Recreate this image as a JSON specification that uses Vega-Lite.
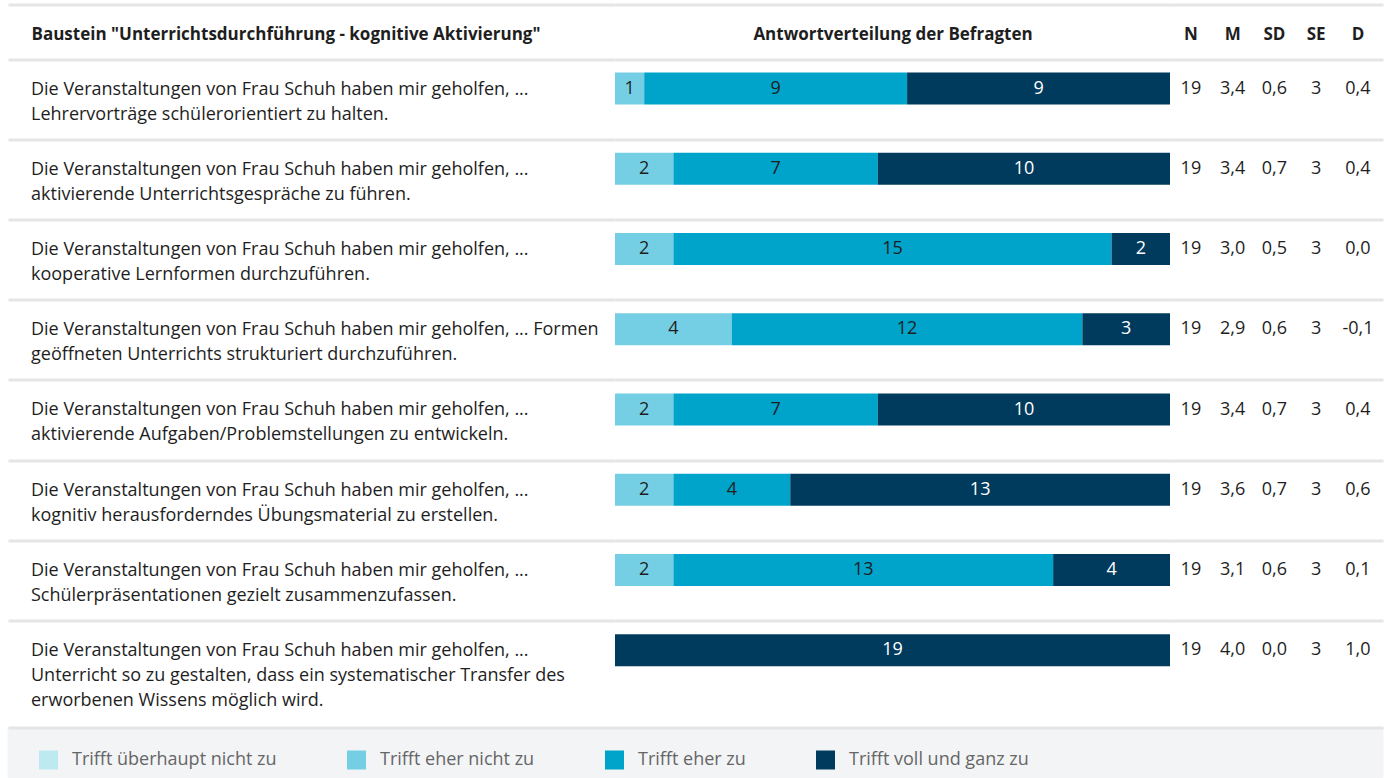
{
  "$schema": "https://vega.github.io/schema/vega-lite/v6.json",
  "padding": {"left": 7, "top": 4.5, "right": 10, "bottom": 0},
  "background": "white",
  "spacing": 0,
  "resolve": {"scale": {"color": "shared"}, "legend": {"color": "shared"}},
  "config": {
    "font": "Open Sans",
    "view": {"stroke": null},
    "locale": {"number": {"decimal": ",", "thousands": ".", "grouping": [3], "currency": ["", " €"], "minus": "-"}},
    "axis": {"gridColor": "#e5e5e5", "gridWidth": 3, "domainColor": "#e5e5e5", "domainWidth": 3, "labelFont": "Open Sans", "titleFont": "Open Sans"}
  },
  "datasets": {
    "questions": [
      {"id": "F1", "text": "Die Veranstaltungen von Frau Schuh haben mir geholfen, ...\nLehrervorträge schülerorientiert zu halten."},
      {"id": "F2", "text": "Die Veranstaltungen von Frau Schuh haben mir geholfen, ...\naktivierende Unterrichtsgespräche zu führen."},
      {"id": "F3", "text": "Die Veranstaltungen von Frau Schuh haben mir geholfen, ...\nkooperative Lernformen durchzuführen."},
      {"id": "F4", "text": "Die Veranstaltungen von Frau Schuh haben mir geholfen, ... Formen\ngeöffneten Unterrichts strukturiert durchzuführen."},
      {"id": "F5", "text": "Die Veranstaltungen von Frau Schuh haben mir geholfen, ...\naktivierende Aufgaben/Problemstellungen zu entwickeln."},
      {"id": "F6", "text": "Die Veranstaltungen von Frau Schuh haben mir geholfen, ...\nkognitiv herausforderndes Übungsmaterial zu erstellen."},
      {"id": "F7", "text": "Die Veranstaltungen von Frau Schuh haben mir geholfen, ...\nSchülerpräsentationen gezielt zusammenzufassen."},
      {"id": "F8", "text": "Die Veranstaltungen von Frau Schuh haben mir geholfen, ...\nUnterricht so zu gestalten, dass ein systematischer Transfer des\nerworbenen Wissens möglich wird."}
    ],
    "answers": [
      {"id": "F1", "category": "Trifft eher nicht zu", "k": 2, "count": 1},
      {"id": "F1", "category": "Trifft eher zu", "k": 3, "count": 9},
      {"id": "F1", "category": "Trifft voll und ganz zu", "k": 4, "count": 9},
      {"id": "F2", "category": "Trifft eher nicht zu", "k": 2, "count": 2},
      {"id": "F2", "category": "Trifft eher zu", "k": 3, "count": 7},
      {"id": "F2", "category": "Trifft voll und ganz zu", "k": 4, "count": 10},
      {"id": "F3", "category": "Trifft eher nicht zu", "k": 2, "count": 2},
      {"id": "F3", "category": "Trifft eher zu", "k": 3, "count": 15},
      {"id": "F3", "category": "Trifft voll und ganz zu", "k": 4, "count": 2},
      {"id": "F4", "category": "Trifft eher nicht zu", "k": 2, "count": 4},
      {"id": "F4", "category": "Trifft eher zu", "k": 3, "count": 12},
      {"id": "F4", "category": "Trifft voll und ganz zu", "k": 4, "count": 3},
      {"id": "F5", "category": "Trifft eher nicht zu", "k": 2, "count": 2},
      {"id": "F5", "category": "Trifft eher zu", "k": 3, "count": 7},
      {"id": "F5", "category": "Trifft voll und ganz zu", "k": 4, "count": 10},
      {"id": "F6", "category": "Trifft eher nicht zu", "k": 2, "count": 2},
      {"id": "F6", "category": "Trifft eher zu", "k": 3, "count": 4},
      {"id": "F6", "category": "Trifft voll und ganz zu", "k": 4, "count": 13},
      {"id": "F7", "category": "Trifft eher nicht zu", "k": 2, "count": 2},
      {"id": "F7", "category": "Trifft eher zu", "k": 3, "count": 13},
      {"id": "F7", "category": "Trifft voll und ganz zu", "k": 4, "count": 4},
      {"id": "F8", "category": "Trifft voll und ganz zu", "k": 4, "count": 19}
    ],
    "stats": [
      {"id": "F1", "stat": "N", "value": 19}, {"id": "F1", "stat": "M", "value": 3.4}, {"id": "F1", "stat": "SD", "value": 0.6}, {"id": "F1", "stat": "SE", "value": 3}, {"id": "F1", "stat": "D", "value": 0.4},
      {"id": "F2", "stat": "N", "value": 19}, {"id": "F2", "stat": "M", "value": 3.4}, {"id": "F2", "stat": "SD", "value": 0.7}, {"id": "F2", "stat": "SE", "value": 3}, {"id": "F2", "stat": "D", "value": 0.4},
      {"id": "F3", "stat": "N", "value": 19}, {"id": "F3", "stat": "M", "value": 3.0}, {"id": "F3", "stat": "SD", "value": 0.5}, {"id": "F3", "stat": "SE", "value": 3}, {"id": "F3", "stat": "D", "value": 0.0},
      {"id": "F4", "stat": "N", "value": 19}, {"id": "F4", "stat": "M", "value": 2.9}, {"id": "F4", "stat": "SD", "value": 0.6}, {"id": "F4", "stat": "SE", "value": 3}, {"id": "F4", "stat": "D", "value": -0.1},
      {"id": "F5", "stat": "N", "value": 19}, {"id": "F5", "stat": "M", "value": 3.4}, {"id": "F5", "stat": "SD", "value": 0.7}, {"id": "F5", "stat": "SE", "value": 3}, {"id": "F5", "stat": "D", "value": 0.4},
      {"id": "F6", "stat": "N", "value": 19}, {"id": "F6", "stat": "M", "value": 3.6}, {"id": "F6", "stat": "SD", "value": 0.7}, {"id": "F6", "stat": "SE", "value": 3}, {"id": "F6", "stat": "D", "value": 0.6},
      {"id": "F7", "stat": "N", "value": 19}, {"id": "F7", "stat": "M", "value": 3.1}, {"id": "F7", "stat": "SD", "value": 0.6}, {"id": "F7", "stat": "SE", "value": 3}, {"id": "F7", "stat": "D", "value": 0.1},
      {"id": "F8", "stat": "N", "value": 19}, {"id": "F8", "stat": "M", "value": 4.0}, {"id": "F8", "stat": "SD", "value": 0.0}, {"id": "F8", "stat": "SE", "value": 3}, {"id": "F8", "stat": "D", "value": 1.0}
    ],
    "legend": [
      {"category": "Trifft überhaupt nicht zu", "k": 1},
      {"category": "Trifft eher nicht zu", "k": 2},
      {"category": "Trifft eher zu", "k": 3},
      {"category": "Trifft voll und ganz zu", "k": 4}
    ]
  },
  "vconcat": [
    {
      "spacing": 0,
      "resolve": {"scale": {"color": "shared"}, "legend": {"color": "shared"}},
      "hconcat": [
        {
          "width": 607,
          "height": 667,
          "data": {"name": "questions"},
          "mark": {"type": "text", "align": "left", "baseline": "alphabetic", "lineBreak": "\n", "lineHeight": 25, "fontSize": 18, "dx": 23, "dy": 35, "color": "#1e1e1e"},
          "encoding": {
            "x": {"datum": "Baustein \"Unterrichtsdurchführung - kognitive Aktivierung\"", "type": "nominal",
                  "scale": {"type": "point", "padding": 0, "align": 0},
                  "axis": {"orient": "top", "offset": 55, "title": null, "ticks": false, "tickSize": 0, "labelAlign": "left", "labelOffset": 23, "labelPadding": -30, "labelBaseline": "middle", "labelFontSize": 17, "labelFontWeight": "bold", "labelColor": "#1e1e1e", "labelLimit": 0, "labelAngle": 0, "labelFlush": false, "grid": false}},
            "y": {"field": "id", "type": "nominal", "bandPosition": 0,
                  "scale": {"type": "band", "paddingInner": 0, "paddingOuter": 0.1558, "align": 0},
                  "axis": {"title": null, "labels": false, "ticks": false, "domain": false, "grid": true, "bandPosition": 0}},
            "text": {"field": "text", "type": "nominal"}
          }
        },
        {
          "width": 555,
          "height": 667,
          "data": {"name": "answers"},
          "encoding": {
            "y": {"field": "id", "type": "nominal",
                  "scale": {"type": "band", "paddingInner": 0, "paddingOuter": 0.1558, "align": 0},
                  "axis": {"title": null, "labels": false, "ticks": false, "domain": false, "grid": true, "bandPosition": 0}}
          },
          "layer": [
            {
              "mark": {"type": "bar", "size": 32, "yOffset": -11},
              "encoding": {
                "x": {"field": "count", "type": "quantitative", "stack": "zero", "scale": {"domain": [0, 19], "nice": false},
                      "axis": {"orient": "top", "offset": 55, "title": "Antwortverteilung der Befragten", "titleFontSize": 17, "titleFontWeight": "bold", "titleColor": "#1e1e1e", "titleY": 30, "titleBaseline": "middle", "labels": false, "ticks": false, "grid": false, "domain": true}},
                "color": {"field": "category", "type": "nominal",
                          "scale": {"domain": ["Trifft überhaupt nicht zu", "Trifft eher nicht zu", "Trifft eher zu", "Trifft voll und ganz zu"], "range": ["#bdeaf0", "#74cfe4", "#00a3c9", "#003a5d"]},
                          "legend": {"title": null, "orient": "none", "legendX": 31, "legendY": 691, "direction": "horizontal", "symbolType": "square", "symbolSize": 361, "symbolStrokeWidth": 0, "symbolOpacity": 1, "labelFontSize": 18, "labelColor": "#666666", "labelOffset": 14, "columnPadding": 70, "padding": 0, "labelLimit": 0}},
                "order": {"field": "k", "type": "quantitative"}
              }
            },
            {
              "mark": {"type": "text", "yOffset": -11, "fontSize": 18, "baseline": "middle"},
              "encoding": {
                "x": {"field": "count", "type": "quantitative", "stack": "zero", "bandPosition": 0.5},
                "detail": {"field": "category", "type": "nominal"},
                "order": {"field": "k", "type": "quantitative"},
                "text": {"field": "count", "type": "quantitative"},
                "color": {"condition": {"test": "datum.k === 4", "value": "#ffffff"}, "value": "#1e1e1e"}
              }
            }
          ]
        },
        {
          "width": 213,
          "height": 667,
          "data": {"name": "stats"},
          "encoding": {
            "x": {"field": "stat", "type": "nominal",
                  "scale": {"type": "band", "domain": ["N", "M", "SD", "SE", "D"], "paddingInner": 0, "paddingOuter": 0.05, "align": 0},
                  "axis": {"orient": "top", "offset": 55, "title": null, "ticks": false, "tickSize": 0, "labelAngle": 0, "labelPadding": -30, "labelBaseline": "middle", "labelFontSize": 17, "labelFontWeight": "bold", "labelColor": "#1e1e1e", "grid": false}},
            "y": {"field": "id", "type": "nominal",
                  "scale": {"type": "band", "paddingInner": 0, "paddingOuter": 0.1558, "align": 0},
                  "axis": {"title": null, "labels": false, "ticks": false, "domain": false, "grid": true, "bandPosition": 0}}
          },
          "layer": [
            {
              "transform": [{"filter": "datum.stat === 'N' || datum.stat === 'SE'"}],
              "mark": {"type": "text", "yOffset": -11, "fontSize": 18, "baseline": "middle", "color": "#1e1e1e"},
              "encoding": {"text": {"field": "value", "type": "quantitative", "format": "d"}}
            },
            {
              "transform": [{"filter": "datum.stat !== 'N' && datum.stat !== 'SE'"}],
              "mark": {"type": "text", "yOffset": -11, "fontSize": 18, "baseline": "middle", "color": "#1e1e1e"},
              "encoding": {"text": {"field": "value", "type": "quantitative", "format": ".1f"}}
            }
          ]
        }
      ]
    },
    {
      "width": 1375,
      "height": 50,
      "data": {"name": "legend"},
      "mark": {"type": "rect", "fill": "#f3f4f6", "stroke": "#f3f4f6", "strokeWidth": 1},
      "encoding": {
        "x": {"field": "category", "type": "nominal", "scale": {"paddingInner": 0, "paddingOuter": 0},
              "axis": {"orient": "top", "title": null, "labels": false, "ticks": false, "grid": false, "domain": true}}
      }
    }
  ]
}
